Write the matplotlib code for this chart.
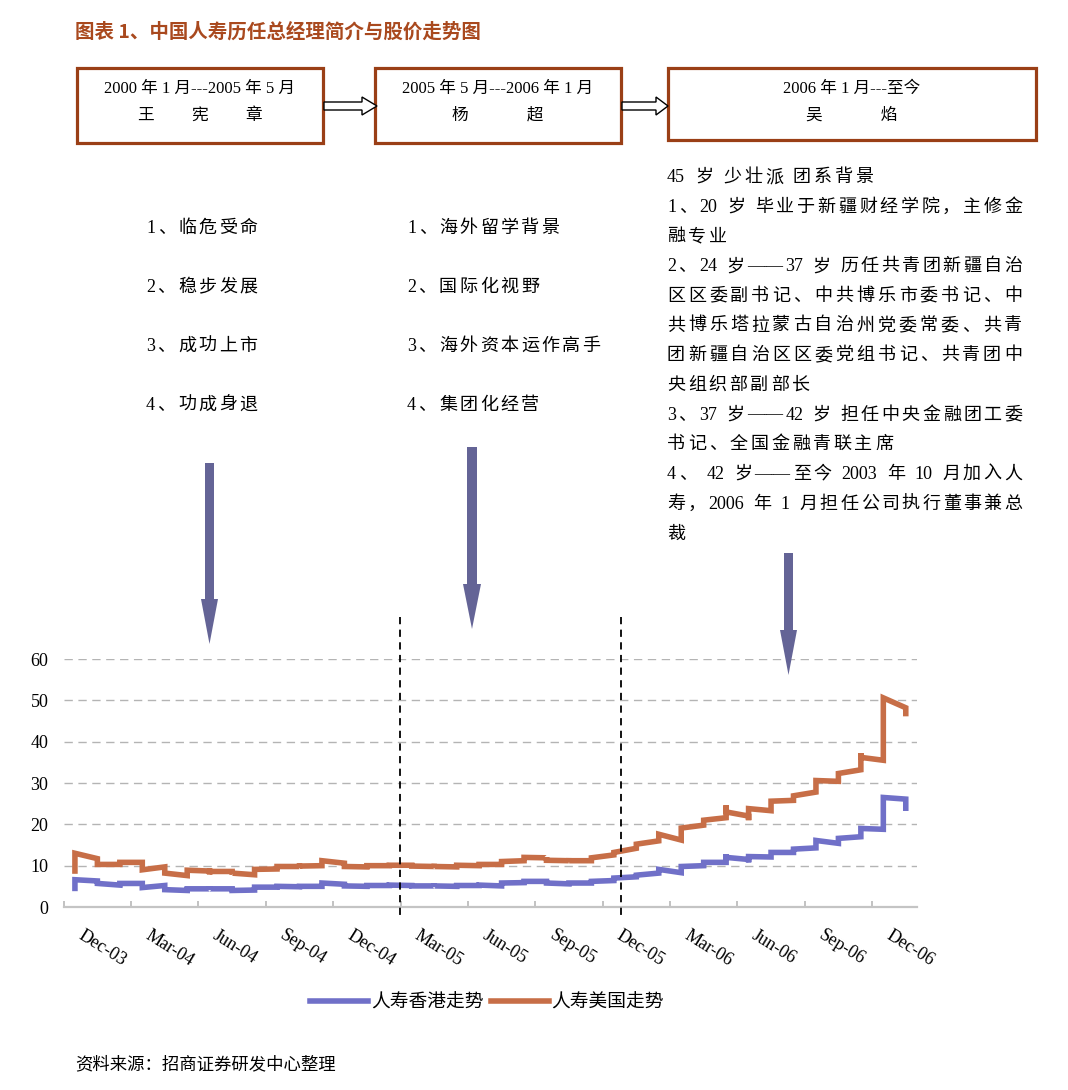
import matplotlib
matplotlib.use('Agg')
import re
import matplotlib.pyplot as plt
from matplotlib.patches import Rectangle, Polygon
from matplotlib.lines import Line2D
from matplotlib.font_manager import FontProperties

FAM = ['Liberation Serif', 'Noto Sans CJK SC']
plt.rcParams['font.family'] = FAM
plt.rcParams['axes.unicode_minus'] = False

# ---------------- data ----------------
quarter_labels = ['Dec-03', 'Mar-04', 'Jun-04', 'Sep-04', 'Dec-04', 'Mar-05', 'Jun-05',
                  'Sep-05', 'Dec-05', 'Mar-06', 'Jun-06', 'Sep-06', 'Dec-06']

# weekly prices grouped by month (Dec-03 ... Jan-07): first, (extreme), last
hk_monthly = [
    [4.5, 6.6], [6.3, 5.7], [5.3, 5.7], [5.7, 4.7], [5.2, 4.2], [4.0, 4.4],
    [4.4, 4.1, 4.4], [4.4, 4.0], [4.1, 4.8], [4.8, 5.0], [4.9, 5.0], [5.0, 5.8],
    [5.5, 5.1], [5.0, 5.2], [5.2, 5.3], [5.2, 5.1], [5.1, 4.8, 5.1], [5.0, 5.2],
    [5.2, 5.3], [5.1, 5.8], [5.9, 6.2], [6.2, 5.8], [5.6, 5.8], [5.8, 6.2],
    [6.4, 7.0], [7.3, 7.7], [8.2, 9.1], [8.3, 9.8], [10.0, 10.8], [10.8, 12.8, 12.0],
    [11.5, 10.8, 12.2], [12.1, 13.2], [13.2, 14.0], [14.3, 16.1], [15.4, 16.6],
    [17.0, 19.0], [18.8, 26.5], [26.1, 23.9],
]
us_monthly = [
    [8.7, 13.0], [11.7, 10.3], [10.3, 10.8], [10.8, 9.0], [9.7, 8.2], [7.6, 8.9],
    [8.7, 7.9, 8.6], [8.6, 7.9, 8.2], [7.8, 9.1], [9.2, 9.8], [9.8, 9.4, 9.9], [10.0, 11.2],
    [10.6, 9.8], [9.7, 10.0], [10.0, 10.1], [10.1, 9.9], [9.8, 9.4, 9.8], [9.7, 10.1],
    [10.0, 10.3], [10.3, 11.0], [11.2, 12.0], [11.9, 12.0, 11.3], [11.2, 10.8, 11.2], [11.2, 11.9],
    [12.6, 13.2], [14.2, 15.2], [16.0, 17.6], [16.2, 19.1], [19.8, 21.0], [21.6, 24.6, 23.0],
    [22.0, 21.0, 23.8], [23.3, 25.6], [25.8, 26.9], [27.8, 30.6], [30.4, 32.3],
    [33.2, 37.2, 36.2], [35.5, 50.6], [48.2, 46.8],
]
series_names = ['人寿香港走势', '人寿美国走势']
yticks = [0, 10, 20, 30, 40, 50, 60]

title = '图表 1、中国人寿历任总经理简介与股价走势图'
box_dates = ['2000 年 1 月---2005 年 5 月', '2005 年 5 月---2006 年 1 月', '2006 年 1 月---至今']
box_names = ['王\u3000\u3000 宪\u3000\u3000 章', '杨\u3000\u3000\u3000  超', '吴\u3000\u3000\u3000  焰']
col1 = ['1、临危受命', '2、稳步发展', '3、成功上市', '4、功成身退']
col2 = ['1、海外留学背景', '2、国际化视野', '3、海外资本运作高手', '4、集团化经营']
col3 = ['45 岁 少壮派 团系背景',
        '1、20 岁 毕业于新疆财经学院，主修金',
        '融专业',
        '2、24 岁——37 岁 历任共青团新疆自治',
        '区区委副书记、中共博乐市委书记、中',
        '共博乐塔拉蒙古自治州党委常委、共青',
        '团新疆自治区区委党组书记、共青团中',
        '央组织部副部长',
        '3、37 岁——42 岁 担任中央金融团工委',
        '书记、全国金融青联主席',
        '4、 42 岁——至今 2003 年 10 月加入人',
        '寿，2006 年 1 月担任公司执行董事兼总',
        '裁']
col3_justified = [False, True, False, True, True, True, True, False, True, False, True, True, False]
source = '资料来源：招商证券研发中心整理'

BLUE = '#7070C8'
ORANGE = '#C76E47'
BROWN = '#9A3F16'
ARROW = '#646496'

W, H = 1068, 1090
fig = plt.figure(figsize=(W / 100, H / 100), dpi=100)
renderer = fig.canvas.get_renderer()


def P(x, y):
    return (x / W, 1 - y / H)


def spaced(x_px, y_px, s, size, gap=2.6, right=None):
    """Draw text token by token with extra spacing (baseline at y_px).
    Runs of Latin characters/digits and of dashes stay together."""
    prop = FontProperties(family=FAM, size=size)
    em = size * 100 / 72
    tokens = re.findall(r'[A-Za-z0-9.\-]+|—+| |.', s)
    ws = []
    for tk in tokens:
        if tk == ' ':
            ws.append(em * 0.25)
        else:
            w, _, _ = renderer.get_text_width_height_descent(tk, prop, ismath=False)
            ws.append(w)
    if right is not None and len(tokens) > 1:
        gap = (right - x_px - sum(ws)) / (len(tokens) - 1)
    x = x_px
    for tk, w in zip(tokens, ws):
        if tk != ' ':
            fig.text(*P(x, y_px), tk, fontproperties=prop, ha='left', va='baseline')
        x += w + gap


# ---------------- header ----------------
fig.text(*P(75, 32), title, fontsize=14, fontweight='bold', color='#A9491E',
         family=['Noto Sans CJK SC'], ha='left', va='center')

boxes = [(77, 68, 323, 143), (375, 68, 621, 143), (668, 68, 1036, 140)]
for (x0, y0, x1, y1), d, n in zip(boxes, box_dates, box_names):
    fig.patches.append(Rectangle(P(x0, y1), (x1 - x0) / W, (y1 - y0) / H,
                                 transform=fig.transFigure, fill=False,
                                 edgecolor=BROWN, lw=2.3))
    cx = (x0 + x1) / 2
    fig.text(*P(cx, 89), d, fontsize=12, ha='center', va='center')
    fig.text(*P(cx, 116), n, fontsize=12, ha='center', va='center')

# small hollow block arrows between boxes
for a, b, c in [(324, 362, 377), (622, 656, 668)]:
    pts = [P(a, 102), P(b, 102), P(b, 97), P(c, 106), P(b, 115), P(b, 110), P(a, 110)]
    fig.patches.append(Polygon(pts, closed=True, transform=fig.transFigure,
                               facecolor='white', edgecolor='black', lw=1))

for k, t in enumerate(col1):
    spaced(146, 233 + 59 * k, t, 13, gap=2.5)
for k, t in enumerate(col2):
    spaced(407, 233 + 59 * k, t, 13, gap=2.5)
for k, (t, j) in enumerate(zip(col3, col3_justified)):
    spaced(667, 182 + 29.7 * k, t, 13, gap=2.8, right=1022 if j else None)

# big downward arrows
for (sx0, sx1, top, hs, hx0, hx1, tip) in [(205, 214, 463, 599, 201, 218, 644),
                                            (467, 477, 447, 584, 463, 481, 629),
                                            (784, 793, 553, 630, 780, 797, 675)]:
    pts = [P(sx0, top), P(sx1, top), P(sx1, hs), P(hx1, hs), P((hx0 + hx1) / 2, tip),
           P(hx0, hs), P(sx0, hs)]
    fig.patches.append(Polygon(pts, closed=True, transform=fig.transFigure,
                               facecolor=ARROW, edgecolor='none'))

# ---------------- chart ----------------
ax = fig.add_axes([63.7 / W, 1 - 907 / H, (917 - 63.7) / W, (907 - 659) / H])


def build(monthly):
    xs, ys = [], []
    for i, vals in enumerate(monthly):
        for v in vals:
            xs.append(i)
            ys.append(v)
    return xs, ys


for data, col, name in [(hk_monthly, BLUE, series_names[0]), (us_monthly, ORANGE, series_names[1])]:
    xs, ys = build(data)
    ax.plot(xs, ys, color=col, lw=4, solid_joinstyle='miter',
            solid_capstyle='projecting', zorder=3, label=name)

n = len(us_monthly)
ax.set_xlim(-0.5, n - 0.5)
ax.set_ylim(0, 60)
ax.set_yticks(yticks)
ax.set_yticklabels([str(v) for v in yticks], fontsize=13)
ax.yaxis.grid(True, ls=(0, (6, 4)), color='#b4b4b4', lw=1)
ax.set_axisbelow(True)
ax.tick_params(axis='y', length=0, pad=11)
qpos = list(range(0, n - 1, 3))
ax.set_xticks([q - 0.5 for q in qpos])
ax.set_xticklabels([''] * len(qpos))
ax.tick_params(axis='x', direction='in', length=4, color='#bdbdbd', width=1.3)
for s in ['left', 'right', 'top']:
    ax.spines[s].set_visible(False)
ax.spines['bottom'].set_color('#c4c4c4')
ax.spines['bottom'].set_linewidth(1.6)

for q, lab in zip(qpos, quarter_labels):
    ax.annotate(lab, xy=(q, 0), xycoords=('data', 'axes fraction'),
                xytext=(9, -20), textcoords='offset pixels', rotation=-32,
                rotation_mode='anchor', ha='left', va='top', fontsize=13)

# dashed separators (tenure changes)
for xv in [14.47, 24.3]:
    ax.plot([xv, xv], [1.169, -0.044], transform=ax.get_xaxis_transform(),
            color='black', ls=(0, (4, 3)), lw=1.3, clip_on=False, zorder=4)

handles = [Line2D([], [], color=BLUE, lw=4), Line2D([], [], color=ORANGE, lw=4)]
fig.legend(handles, series_names, loc='center', bbox_to_anchor=P(487, 1003), ncol=2,
           frameon=False, fontsize=13.5, handlelength=3.1, handletextpad=0.15,
           columnspacing=0.4)

fig.text(*P(75, 1065), source, fontsize=12.5, ha='left', va='center')

fig.savefig('out.png', dpi=100, facecolor='white')
